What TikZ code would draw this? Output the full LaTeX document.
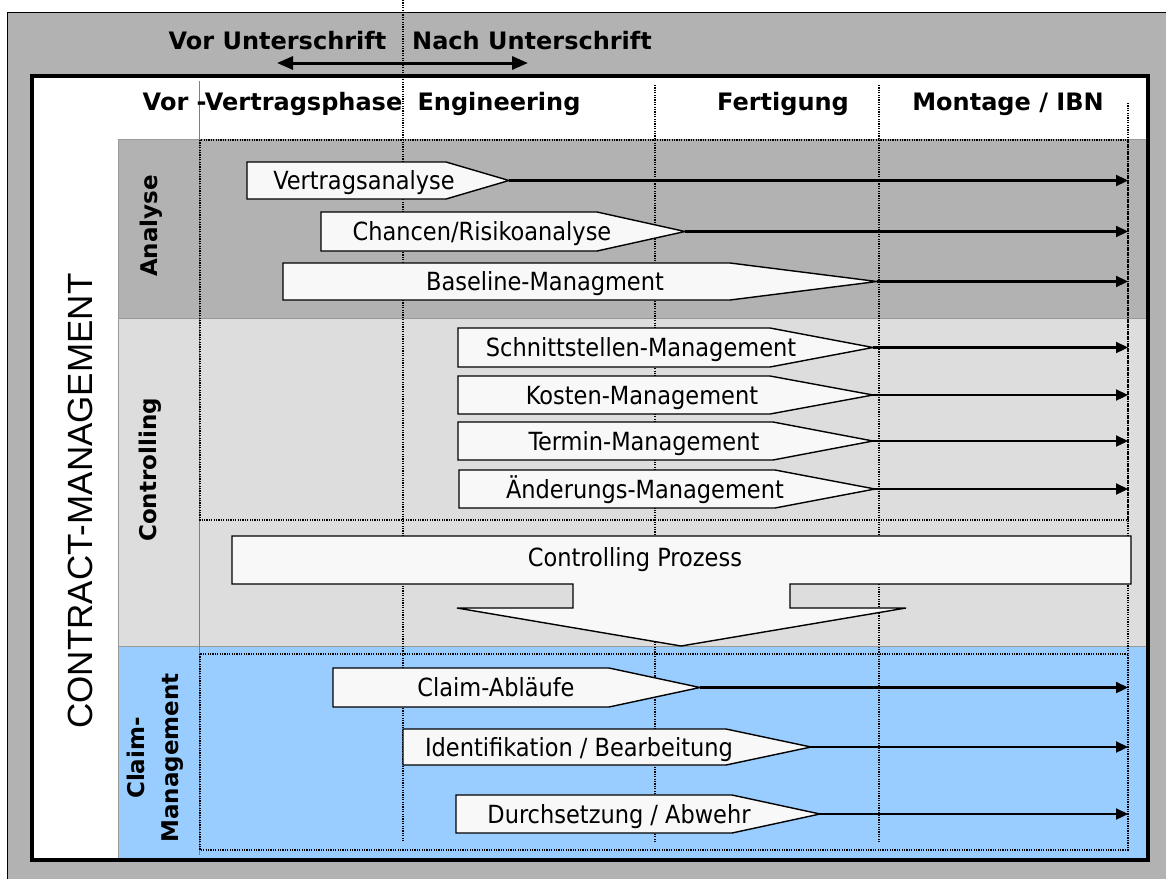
\documentclass[tikz,border=0pt]{standalone}
\usepackage{fontspec}
\setmainfont{DejaVu Sans Condensed}
\newfontfamily\headfont{DejaVu Sans}
\newfontfamily\arialfont{Liberation Sans}
\usetikzlibrary{arrows.meta}

\definecolor{bandgray}{HTML}{B2B2B2}
\definecolor{ctrlgray}{HTML}{DDDDDD}
\definecolor{claimblue}{HTML}{99CCFF}
\definecolor{boxfill}{HTML}{F8F8F8}

\tikzset{
  phasebox/.style={draw=black,line width=1.4pt,fill=boxfill,line join=miter},
  phaselabel/.style={anchor=base,inner sep=0pt,font=\fontsize{25}{30}\selectfont},
  headlabel/.style={anchor=base,inner sep=0pt,font=\headfont\bfseries\fontsize{24}{29}\selectfont},
  bandlabel/.style={rotate=90,inner sep=0pt,align=center,font=\headfont\bfseries\fontsize{23}{34}\selectfont},
  flowline/.style={line width=2.2pt,-{Triangle[length=12pt,width=11pt]}},
  dotline/.style={line width=1.2pt,dash pattern=on 1.2pt off 1.2pt},
}

\begin{document}
\begin{tikzpicture}[x=1pt,y=-1pt]
\useasboundingbox (0,0) rectangle (1166,878);
\fill[white] (0,0) rectangle (1166,878);

% outer frame
\filldraw[fill=bandgray,draw=black,line width=1pt] (7.5,12.5) rectangle (1180,892);
\fill[white] (32,76) rectangle (1148,860);

% bands
\filldraw[fill=bandgray,draw=gray!80,line width=0.6pt] (118,139) rectangle (1148,318);
\filldraw[fill=ctrlgray,draw=gray!80,line width=0.6pt] (118,318) rectangle (1148,646);
\filldraw[fill=claimblue,draw=gray!80,line width=0.6pt] (118,646) rectangle (1148,860);

% phase grid
\draw[gray,line width=1pt] (199.5,81) -- (199.5,855);
\draw[dotline] (200,140) rectangle (1128,520);
\draw[dotline] (200,654) rectangle (1128,850);
\draw[dotline] (1128,103) -- (1128,850);
\draw[dotline] (403,0) -- (403,842);
\draw[dotline] (655,85) -- (655,842);
\draw[dotline] (879,85) -- (879,842);

% frame
\draw[line width=4.5pt] (32,76) rectangle (1148,860);

% signature
\node[headlabel] (vor) at (277.5,49) {Vor Unterschrift};
\node[headlabel] (nach) at (532,49) {Nach Unterschrift};
\coordinate (sigL) at (277,63);
\coordinate (sigR) at (528,63);
\draw[line width=3pt,{Triangle[length=16pt,width=13pt]}-{Triangle[length=16pt,width=13pt]}] (sigL) -- (sigR);

% phases
\node[headlabel] (vvp) at (272.5,110) {Vor -Vertragsphase};
\node[headlabel] (eng) at (499,110) {Engineering};
\node[headlabel] (fert) at (783,110) {Fertigung};
\node[headlabel] (mont) at (1008,110) {Montage / IBN};

% side labels
\node[rotate=90,inner sep=0pt,font=\arialfont\fontsize{35}{40}\selectfont] (cm) at (80,501) {CONTRACT-MANAGEMENT};
\node[bandlabel] (ana) at (151,226) {Analyse};
\node[bandlabel] (ctrl) at (150,470) {Controlling};
\node[bandlabel] (claim) at (155,758) {Claim-\\Management};

% tasks
\foreach \n/\l/\s/\t/\ya/\yb/\tx/\txt in {
  va/247/446/509/162/199/364/Vertragsanalyse,
  cr/321/597/685/212/251/482/{Chancen/Risikoanalyse},
  bm/283/730/877/263/300/545/Baseline-Managment,
  sm/458/770/873/328/367/641/Schnittstellen-Management,
  km/458/770/873/376/414/642/Kosten-Management,
  tm/458/773/873/422/460/644/Termin-Management,
  am/459/775/875/470/508/645/Änderungs-Management,
  ca/333/609/700/668/707/496/Claim-Abläufe,
  ib/403/726/811/729/765/579/{Identifikation / Bearbeitung},
  da/456/732/820/795/833/619/{Durchsetzung / Abwehr}}
{
    \pgfmathsetmacro{\ym}{(\ya+\yb)/2}
    \draw[phasebox] (\l,\ya) -- (\s,\ya) -- (\t,\ym) -- (\s,\yb) -- (\l,\yb) -- cycle;
    \node[phaselabel] (\n) at (\tx,\ym+9) {\txt};
    \coordinate (\n tip) at (\t,\ym);
    \coordinate (\n end) at (1128,\ym);
    \draw[flowline] (\n tip) -- (\n end);
}

% controlling process
\draw[phasebox] (232,536) -- (1131,536) -- (1131,584) -- (790,584) -- (790,608)
  -- (906,608) -- (681,646) -- (457,608) -- (573,608) -- (573,584) -- (232,584) -- cycle;
\node[phaselabel] (cp) at (635,566) {Controlling Prozess};
\end{tikzpicture}
\end{document}
